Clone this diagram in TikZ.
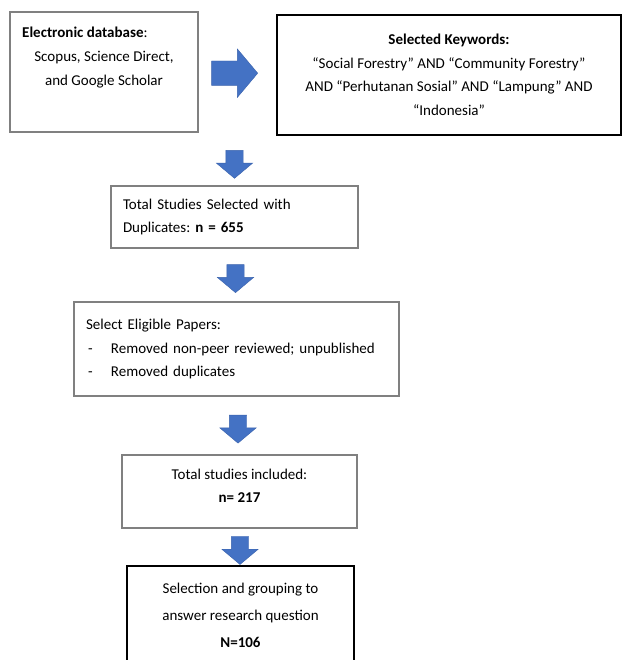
\documentclass[tikz,border=0pt]{standalone}
\usepackage{fontspec}
\setmainfont{Carlito}
\usepackage{tikz}
\usetikzlibrary{shapes.arrows,calc}
\definecolor{arrblue}{HTML}{4472C4}
\definecolor{arrline}{HTML}{3A62AC}
\frenchspacing
\tikzset{gbox/.style={draw=black!50,line width=1.1pt,inner sep=0pt},bbox/.style={draw=black,line width=1.8pt,inner sep=0pt},txt/.style={inner sep=0pt,font=\fontsize{15}{23.5}\selectfont}}
\tikzset{arr/.style={single arrow,fill=arrblue,draw=arrline,line width=.4pt,inner xsep=0pt,single arrow tip angle=100},darr/.style={arr,rotate=-90,minimum height=28pt,inner ysep=8.5pt,single arrow head extend=9.5pt}}

\begin{document}
\begin{tikzpicture}[x=1pt,y=-1pt]
  \useasboundingbox (0,0) rectangle (623,660);
  \node[gbox,minimum width=188pt,minimum height=120pt] (db) at (104,72) {};
  \node[txt,anchor=west] (dbhead) at (22,32) {\textbf{Electronic database}:};
  \node[txt,align=center] (dbtxt) at (104,69.5) {Scopus, Science Direct,\\and Google Scholar};
  \node[bbox,txt,minimum width=344pt,minimum height=120pt,align=center] (kw) at (449,75) {\textbf{Selected Keywords:}\\“Social Forestry” AND “Community Forestry”\\AND “Perhutanan Sosial” AND “Lampung” AND\\“Indonesia”};
  \node[gbox,txt,minimum width=247pt,minimum height=62pt,text width=223pt,align=left] (total) at (234.5,217) {Total Studies Selected with\\Duplicates: \textbf{n = 655}};
  \node[gbox,txt,minimum width=325pt,minimum height=94pt,text width=301pt,align=left] (elig) at (236.5,349) {Select Eligible Papers:\\\makebox[25pt][l]{\hspace{2pt}-}Removed non-peer reviewed; unpublished\\\makebox[25pt][l]{\hspace{2pt}-}Removed duplicates};
  \node[gbox,minimum width=235pt,minimum height=73pt] (incl) at (239.5,491.5) {};
  \node[txt,align=center] (incltxt) at (239.5,486) {Total studies included:\\\textbf{n= 217}};
  \node[bbox,txt,minimum width=227pt,minimum height=98pt,align=center,font=\fontsize{15}{27}\selectfont] (sel) at (240.5,615) {Selection and grouping to\\answer research question\\\textbf{N=106}};
  % block arrows
  \node[arr,minimum height=46pt,inner ysep=12pt,single arrow head extend=12pt] (a0) at ($(db.east)!0.4!(kw.west)$) {};
  \node[darr] (a1) at ($(kw.south -| total.north)!0.5!(total.north)$) {};
  \node[darr] (a2) at ($(total.south)!0.5!(elig.north)$) {};
  \node[darr] (a3) at ($(elig.south)!0.5!(incl.north)$) {};
  \node[darr] (a4) at ($(incl.south)!0.5!(sel.north)$) {};
\end{tikzpicture}
\end{document}
